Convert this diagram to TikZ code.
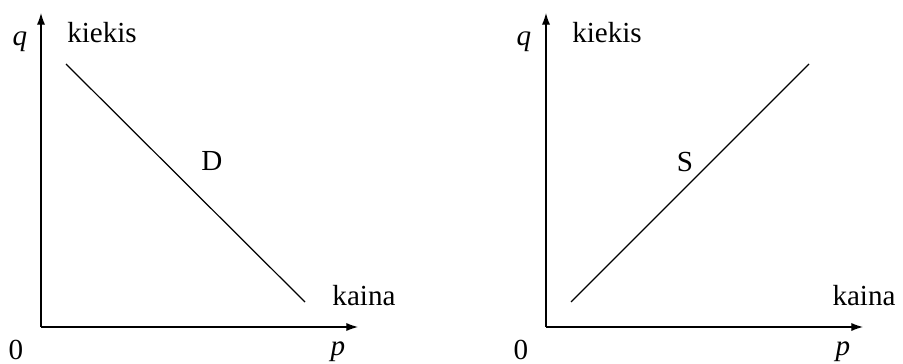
\documentclass[tikz,border=0pt]{standalone}
\usepackage{fontspec}
\setmainfont{Liberation Serif}
\usetikzlibrary{arrows.meta}

\begin{document}
\begin{tikzpicture}[x=0.0145cm, y=0.0145cm,
    lbl/.style={font=\fontsize{12}{14}\selectfont, inner sep=0pt},
    axis/.style={-{Latex[length=1.7mm,width=1.2mm]}, line width=0.5pt},
    curve/.style={line width=0.5pt}
]
    \useasboundingbox (0,0) rectangle (903,363);

    % demand: left graph
    \coordinate (oD) at (41,36);
    \coordinate (qD) at (41,350);
    \coordinate (pD) at (358,36);
    \coordinate (dA) at (66,299);
    \coordinate (dB) at (305,61);
    \draw[axis] (oD) -- (qD);
    \draw[axis] (oD) -- (pD);
    \draw[curve] (dA) -- (dB);
    \node[lbl] (zeroD) at (16,13) {0};
    \node[lbl] (pLblD) at (338,11) {\textit{p}};
    \node[lbl] (qLblD) at (20,321) {\textit{q}};
    \node[lbl] (kiekisD) at (102,330) {kiekis};
    \node[lbl] (kainaD) at (364,67) {kaina};
    \node[lbl] (D) at (212,202) {D};

    % supply: right graph
    \coordinate (oS) at (546,36);
    \coordinate (qS) at (546,350);
    \coordinate (pS) at (863,36);
    \coordinate (sA) at (571,61);
    \coordinate (sB) at (809,299);
    \draw[axis] (oS) -- (qS);
    \draw[axis] (oS) -- (pS);
    \draw[curve] (sA) -- (sB);
    \node[lbl] (zeroS) at (521,13) {0};
    \node[lbl] (pLblS) at (843,11) {\textit{p}};
    \node[lbl] (qLblS) at (524,321) {\textit{q}};
    \node[lbl] (kiekisS) at (607,330) {kiekis};
    \node[lbl] (kainaS) at (864,67) {kaina};
    \node[lbl] (S) at (685,201) {S};
\end{tikzpicture}
\end{document}
